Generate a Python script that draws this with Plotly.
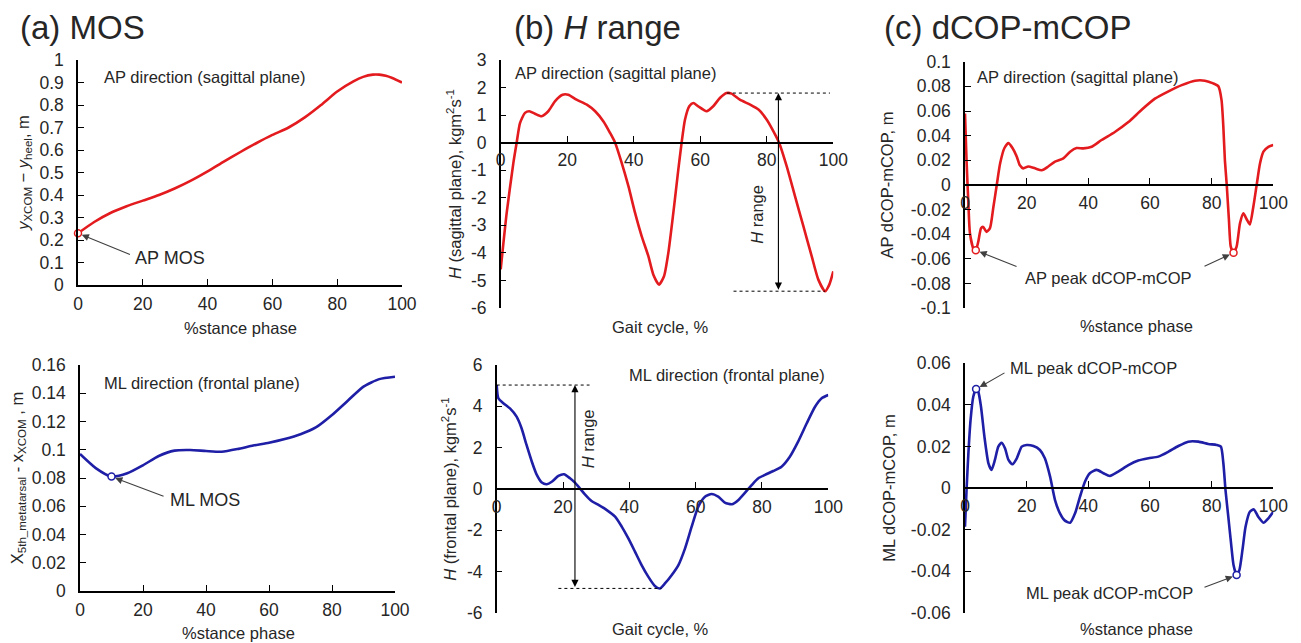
import plotly.graph_objects as go

# reference canvas is 1301x643; the page body adds an 8px margin, so the figure is 8px smaller
REF_W, REF_H = 1301, 643
OFF = 8
W, H = REF_W - OFF, REF_H - OFF

# ---------------- data ----------------
# (a) MOS - AP direction (sagittal plane)
mos_ap_x = [0, 5, 10, 15, 20, 25, 30, 35, 40, 45, 50, 55, 60, 65, 70, 75, 80, 85, 88, 91, 93, 95, 97, 100]
mos_ap_y = [0.23, 0.28, 0.32, 0.35, 0.375, 0.40, 0.43, 0.465, 0.505, 0.548, 0.59, 0.63, 0.667, 0.70, 0.745,
            0.80, 0.86, 0.905, 0.925, 0.935, 0.935, 0.93, 0.92, 0.90]

# (a) MOS - ML direction (frontal plane)
mos_ml_x = [0, 5, 10, 15, 20, 25, 30, 35, 40, 45, 50, 55, 60, 65, 70, 75, 80, 85, 90, 95, 100]
mos_ml_y = [0.097, 0.087, 0.081, 0.0833, 0.089, 0.0956, 0.0994, 0.0998, 0.0991, 0.0986, 0.1005, 0.103,
            0.105, 0.1076, 0.111, 0.116, 0.1246, 0.1347, 0.1447, 0.150, 0.1517]

# (b) H range - sagittal plane
h_sag_x = [0, 1.8, 3.8, 4.8, 5.8, 7.3, 8.6, 10.3, 12.3, 14.3, 16.3, 18.6, 20.3, 22.8, 25.9, 28.4,
           30.9, 32.9, 34.4, 36.4, 38.4, 40.4, 42.4, 44.4, 45.9, 47.6, 49.1, 50.4, 51.9, 53.4,
           54.4, 55.4, 56.7, 57.9, 59.4, 61.9, 63.9, 65.9, 67.9, 69.4, 71.9, 75, 77.5, 80, 82,
           83.7, 86, 88.5, 91, 93.5, 95.5, 97.5, 98.8, 100]
h_sag_y = [-4.6, -2.55, -0.74, 0, 0.71, 1.08, 1.14, 1.05, 0.96, 1.14, 1.5, 1.74, 1.74, 1.56, 1.38,
           1.14, 0.77, 0.35, 0, -0.74, -1.58, -2.55, -3.4, -4.12, -4.79, -5.15, -4.85, -4.0, -2.55,
           -0.98, 0, 0.83, 1.32, 1.44, 1.32, 1.14, 1.32, 1.62, 1.8, 1.78, 1.56, 1.38, 1.2, 0.83,
           0.41, 0, -0.86, -1.95, -3.03, -4.12, -4.97, -5.39, -5.15, -4.67]

# (b) H range - frontal plane
h_fro_x = [0, 0.5, 2, 4, 6, 7.5, 9, 10.6, 12.1, 13.6, 15.1, 16.6, 18.6, 20.3, 22.1, 23.6, 25.1,
           26.6, 28.6, 30.7, 33.2, 35.7, 37.7, 39.7, 41.7, 43.7, 45.7, 47.7, 49.2, 50.8, 52.8,
           54.8, 56.8, 58.8, 60.8, 62.8, 64.8, 66.8, 68.8, 70.9, 72.9, 74.9, 76.9, 78.9, 80.9,
           83.4, 85.9, 88.4, 90.9, 93.5, 96, 98, 100]
h_fro_y = [5.03, 4.39, 4.15, 3.9, 3.5, 2.94, 2.13, 1.32, 0.68, 0.31, 0.23, 0.35, 0.63, 0.71, 0.52,
           0.31, 0.03, -0.26, -0.58, -0.77, -1.02, -1.34, -1.82, -2.39, -3.03, -3.68, -4.24, -4.69,
           -4.81, -4.56, -4.16, -3.68, -2.87, -1.82, -0.85, -0.37, -0.24, -0.37, -0.66, -0.74,
           -0.53, -0.18, 0.19, 0.52, 0.68, 0.87, 1.08, 1.56, 2.29, 3.18, 3.98, 4.39, 4.55]

# (c) dCOP-mCOP - AP direction
cop_ap_x = [0, 0.5, 1.1, 1.6, 2.8, 3.5, 4.3, 5.2, 5.9, 7.0, 8.1, 9.2, 10.3, 11.4, 12.8, 14.1, 15.4,
            16.8, 17.8, 18.9, 20.5, 22.7, 24.9, 27, 29.2, 31.9, 34.1, 36.2, 38.4, 41.1, 44.3, 48.6,
            53, 57.3, 61.6, 66, 70.3, 74.6, 77.8, 80.5, 82.2, 83.2, 83.8, 84.3, 84.9, 85.6, 86.2,
            87.1, 88.1, 89.2, 90.3, 91.4, 92.4, 93.5, 94.6, 95.7, 96.8, 98.4, 100]
cop_ap_y = [0.058, 0.02, -0.015, -0.039, -0.052, -0.053, -0.046, -0.035, -0.034, -0.038, -0.035,
            -0.018, 0, 0.0176, 0.030, 0.034, 0.030, 0.023, 0.016, 0.0135, 0.015, 0.0135, 0.012,
            0.015, 0.019, 0.0216, 0.027, 0.030, 0.0297, 0.031, 0.0365, 0.043, 0.051, 0.061, 0.070,
            0.076, 0.081, 0.0846, 0.0846, 0.0824, 0.080, 0.069, 0.047, 0.020, 0, -0.028, -0.05,
            -0.055, -0.050, -0.031, -0.023, -0.028, -0.032, -0.018, 0, 0.0176, 0.027, 0.031, 0.0324]

# (c) dCOP-mCOP - ML direction
cop_ml_x = [0, 0.5, 1.1, 1.8, 2.7, 3.6, 4.3, 5.2, 6.3, 7.6, 8.6, 9.7, 10.8, 11.9, 13, 14.1, 15.4,
            16.8, 18.4, 20, 22.2, 24.3, 25.9, 27.6, 29.2, 30.8, 32.4, 34.1, 35.7, 37.3, 38.9, 40.5,
            42.7, 44.9, 47, 49.7, 53, 56.2, 59.5, 62.7, 66, 69.2, 72.4, 75.7, 78.9, 81.6, 83, 83.8,
            84.5, 85.4, 86.3, 87.1, 88.1, 89, 90, 91, 92.4, 93.7, 95.1, 96.8, 98.4, 100]
cop_ml_y = [-0.0186, -0.001, 0.0167, 0.0327, 0.044, 0.0476, 0.0464, 0.039, 0.0247, 0.0119, 0.0087,
            0.0135, 0.0199, 0.0218, 0.019, 0.0135, 0.0114, 0.0143, 0.0199, 0.0207, 0.0202, 0.0183,
            0.0143, 0.0055, -0.0058, -0.0122, -0.0157, -0.0167, -0.0122, -0.0042, 0.003, 0.0071,
            0.0087, 0.0071, 0.0058, 0.0079, 0.011, 0.0132, 0.0143, 0.0151, 0.0175, 0.0202, 0.0223,
            0.0223, 0.0212, 0.0207, 0.0199, 0.0119, -0.001, -0.0138, -0.0266, -0.037, -0.0419,
            -0.0395, -0.0298, -0.0186, -0.0114, -0.0103, -0.0138, -0.0167, -0.0146, -0.0114]

# tick values / labels
x_ticks = [0, 20, 40, 60, 80, 100]
x_tick_labels = ["0", "20", "40", "60", "80", "100"]
mos_ap_ticks = [0, 0.1, 0.2, 0.3, 0.4, 0.5, 0.6, 0.7, 0.8, 0.9, 1.0]
mos_ap_tick_labels = ["0", "0.1", "0.2", "0.3", "0.4", "0.5", "0.6", "0.7", "0.8", "0.9", "1"]
mos_ml_ticks = [0, 0.02, 0.04, 0.06, 0.08, 0.1, 0.12, 0.14, 0.16]
mos_ml_tick_labels = ["0", "0.02", "0.04", "0.06", "0.08", "0.1", "0.12", "0.14", "0.16"]
h_sag_ticks = [-6, -5, -4, -3, -2, -1, 0, 1, 2, 3]
h_sag_tick_labels = ["-6", "-5", "-4", "-3", "-2", "-1", "0", "1", "2", "3"]
h_fro_ticks = [-6, -4, -2, 0, 2, 4, 6]
h_fro_tick_labels = ["-6", "-4", "-2", "0", "2", "4", "6"]
cop_ap_ticks = [-0.1, -0.08, -0.06, -0.04, -0.02, 0, 0.02, 0.04, 0.06, 0.08, 0.1]
cop_ap_tick_labels = ["-0.1", "-0.08", "-0.06", "-0.04", "-0.02", "0", "0.02", "0.04", "0.06", "0.08", "0.1"]
cop_ml_ticks = [-0.06, -0.04, -0.02, 0, 0.02, 0.04, 0.06]
cop_ml_tick_labels = ["-0.06", "-0.04", "-0.02", "0", "0.02", "0.04", "0.06"]

# ---------------- style ----------------
RED = "#E31B1E"
BLUE = "#1E1EA6"
FONT = "Arial, Liberation Sans, sans-serif"
TXT = "#262626"
FS = 16.5
TFS = 17.5
ARROW = "#404040"


def px_x(x):
    return (x - OFF) / W


def px_y(y):
    return 1 - (y - OFF) / H


def argmin_in(xs, ys, lo, hi):
    idx = [i for i, v in enumerate(xs) if lo <= v <= hi]
    i = min(idx, key=lambda k: ys[k])
    return xs[i], ys[i]


def argmax_in(xs, ys, lo, hi):
    idx = [i for i, v in enumerate(xs) if lo <= v <= hi]
    i = max(idx, key=lambda k: ys[k])
    return xs[i], ys[i]


panels = [
    dict(n=1, x=mos_ap_x, y=mos_ap_y, c=RED, box=(78, 402, 60, 285), yr=[0, 1],
         yt=(mos_ap_ticks, mos_ap_tick_labels), free=False, standoff=6,
         ytitle="<i>y</i><sub>XCOM</sub> − <i>y</i><sub>heel</sub>, m"),
    dict(n=2, x=h_sag_x, y=h_sag_y, c=RED, box=(500.7, 833.3, 60, 308), yr=[-6, 3],
         yt=(h_sag_ticks, h_sag_tick_labels), free=True, standoff=5,
         ytitle="<i>H</i> (sagittal plane), kgm<sup>2</sup>s<sup>-1</sup>"),
    dict(n=3, x=cop_ap_x, y=cop_ap_y, c=RED, box=(965, 1273.3, 61.7, 308.3), yr=[-0.1, 0.1],
         yt=(cop_ap_ticks, cop_ap_tick_labels), free=True, standoff=13,
         ytitle="AP dCOP-mCOP, m"),
    dict(n=4, x=mos_ml_x, y=mos_ml_y, c=BLUE, box=(80, 395, 365, 591), yr=[0, 0.16],
         yt=(mos_ml_ticks, mos_ml_tick_labels), free=False, standoff=6,
         ytitle="X<sub>5th_metatarsal</sub> - x<sub>XCOM</sub> , m"),
    dict(n=5, x=h_fro_x, y=h_fro_y, c=BLUE, box=(496.7, 828.3, 365, 613), yr=[-6, 6],
         yt=(h_fro_ticks, h_fro_tick_labels), free=True, standoff=6,
         ytitle="<i>H</i> (frontal plane), kgm<sup>2</sup>s<sup>-1</sup>"),
    dict(n=6, x=cop_ml_x, y=cop_ml_y, c=BLUE, box=(965, 1273.3, 363.3, 612.7), yr=[-0.06, 0.06],
         yt=(cop_ml_ticks, cop_ml_tick_labels), free=True, standoff=11,
         ytitle="ML dCOP-mCOP, m"),
]

fig = go.Figure()
layout = dict(
    width=W, height=H, margin=dict(l=0, r=0, t=0, b=0, autoexpand=False),
    paper_bgcolor="white", plot_bgcolor="white", showlegend=False,
    font=dict(family=FONT, size=FS, color=TXT),
)


def sfx(n):
    return "" if n == 1 else str(n)


for p in panels:
    n = p["n"]
    l, r, t, b = p["box"]
    xd = [px_x(l), px_x(r)]
    yd = [px_y(b), px_y(t)]
    fig.add_trace(go.Scatter(
        x=p["x"], y=p["y"], mode="lines",
        line=dict(color=p["c"], width=2.6, shape="spline", smoothing=0.6),
        xaxis="x" + sfx(n), yaxis="y" + sfx(n), hoverinfo="skip"))
    xa = dict(domain=xd, range=[0, 100], tickvals=x_ticks, ticktext=x_tick_labels,
              ticks="inside", ticklen=6, tickwidth=1.3, tickcolor="black",
              showline=True, linecolor="black", linewidth=1.5, automargin=False,
              ticklabelstandoff=2,
              showgrid=False, zeroline=False, tickfont=dict(size=TFS, color=TXT))
    if p["free"]:
        y0, y1 = p["yr"]
        pos = yd[0] + (0 - y0) / (y1 - y0) * (yd[1] - yd[0])
        xa.update(anchor="free", position=pos)
    else:
        xa.update(anchor="y" + sfx(n))
    ya = dict(domain=yd, range=p["yr"], tickvals=p["yt"][0], ticktext=p["yt"][1],
              ticks="inside", ticklen=6, tickwidth=1.3, tickcolor="black",
              showline=True, linecolor="black", linewidth=1.5, automargin=False,
              ticklabelstandoff=9,
              showgrid=False, zeroline=False, anchor="x" + sfx(n),
              tickfont=dict(size=TFS, color=TXT),
              title=dict(text=p["ytitle"], standoff=p["standoff"], font=dict(size=FS, color=TXT)))
    layout["xaxis" + sfx(n)] = xa
    layout["yaxis" + sfx(n)] = ya

# ---------------- marked points ----------------
ap_mos = (mos_ap_x[0], mos_ap_y[0])
ml_mos = argmin_in(mos_ml_x, mos_ml_y, 0, 50)
ap_pk1 = argmin_in(cop_ap_x, cop_ap_y, 0, 20)
ap_pk2 = argmin_in(cop_ap_x, cop_ap_y, 80, 100)
ml_pk1 = argmax_in(cop_ml_x, cop_ml_y, 0, 20)
ml_pk2 = argmin_in(cop_ml_x, cop_ml_y, 80, 100)

for pts, n, c in [([ap_mos], 1, RED), ([ml_mos], 4, BLUE), ([ap_pk1, ap_pk2], 3, RED),
                  ([ml_pk1, ml_pk2], 6, BLUE)]:
    fig.add_trace(go.Scatter(
        x=[q[0] for q in pts], y=[q[1] for q in pts], mode="markers", cliponaxis=False,
        marker=dict(symbol="circle", size=7, color="white", line=dict(color=c, width=1.5)),
        xaxis="x" + sfx(n), yaxis="y" + sfx(n), hoverinfo="skip"))

# ---------------- H range guides ----------------
h_sag_max, h_sag_min = max(h_sag_y), min(h_sag_y)
h_fro_max, h_fro_min = max(h_fro_y), min(h_fro_y)
shapes = [
    dict(type="line", xref="x2", yref="y2", x0=68, x1=99, y0=h_sag_max, y1=h_sag_max,
         line=dict(color="black", width=1, dash="3px,3px")),
    dict(type="line", xref="x2", yref="y2", x0=70, x1=97.5, y0=h_sag_min, y1=h_sag_min,
         line=dict(color="black", width=1, dash="3px,3px")),
    dict(type="line", xref="x5", yref="y5", x0=0, x1=28, y0=h_fro_max, y1=h_fro_max,
         line=dict(color="black", width=1, dash="3px,3px")),
    dict(type="line", xref="x5", yref="y5", x0=18.6, x1=49.7, y0=h_fro_min, y1=h_fro_min,
         line=dict(color="black", width=1, dash="3px,3px")),
]
layout["shapes"] = shapes

ann = []


def text(n, x, y, s, xanchor="left", angle=0, size=FS):
    ann.append(dict(xref="x" + sfx(n), yref="y" + sfx(n), x=x, y=y, text=s, showarrow=False,
                    xanchor=xanchor, yanchor="middle", textangle=angle,
                    font=dict(size=size, color=TXT)))


def arrow(n, head, tail, both=False):
    ann.append(dict(xref="x" + sfx(n), yref="y" + sfx(n), axref="x" + sfx(n), ayref="y" + sfx(n),
                    x=head[0], y=head[1], ax=tail[0], ay=tail[1], text="", showarrow=True,
                    arrowhead=2, arrowsize=1.3, arrowwidth=1.1,
                    arrowcolor=ARROW if not both else "black",
                    arrowside="end+start" if both else "end", standoff=0 if both else 4,
                    startstandoff=0))


def paper_text(xp, yp, s, size=FS, xanchor="center"):
    ann.append(dict(xref="paper", yref="paper", x=px_x(xp), y=px_y(yp), text=s, showarrow=False,
                    xanchor=xanchor, yanchor="middle", font=dict(size=size, color=TXT)))


# panel titles
paper_text(18, 27, "(a) MOS", size=33, xanchor="left")
paper_text(512, 27, "(b) <i>H</i> range", size=33, xanchor="left")
paper_text(882, 27, "(c) dCOP-mCOP", size=33, xanchor="left")

# x axis titles
paper_text(240, 328, "%stance phase")
paper_text(661, 327, "Gait cycle, %")
paper_text(1136, 326, "%stance phase")
paper_text(238, 633, "%stance phase")
paper_text(661, 629, "Gait cycle, %")
paper_text(1136, 629, "%stance phase")

# in-plot labels
text(1, 7.4, 0.924, "AP direction (sagittal plane)")
text(1, 17, 0.12, "AP MOS", size=18)
arrow(1, ap_mos, (16.5, 0.133))

text(4, 7, 0.147, "ML direction (frontal plane)")
text(4, 28, 0.0644, "ML MOS", size=18)
arrow(4, ml_mos, (27, 0.0666))

text(2, 3.7, 2.53, "AP direction (sagittal plane)")
text(2, 77.2, -2.6, "<i>H</i> range", xanchor="center", angle=-90)
arrow(2, (83.5, h_sag_max), (83.5, h_sag_min), both=True)

text(5, 99.6, 5.52, "ML direction (frontal plane)", xanchor="right")
text(5, 27.6, 2.42, "<i>H</i> range", xanchor="center", angle=-90)
arrow(5, (23.6, h_fro_max), (23.6, h_fro_min), both=True)

text(3, 3.2, 0.0876, "AP direction (sagittal plane)")
text(3, 46.7, -0.0754, "AP peak dCOP-mCOP", xanchor="center")
arrow(3, ap_pk1, (17.2, -0.0665))
arrow(3, ap_pk2, (77.2, -0.0665))

text(6, 14, 0.0577, "ML peak dCOP-mCOP")
text(6, 100.5, 0.0423, "ML direction (frontal plane)", xanchor="right")
text(6, 47, -0.0505, "ML peak dCOP-mCOP", xanchor="center")
arrow(6, ml_pk1, (13.3, 0.0558))
arrow(6, ml_pk2, (77.2, -0.048))

layout["annotations"] = ann
fig.update_layout(**layout)
fig.write_html("out.html")
